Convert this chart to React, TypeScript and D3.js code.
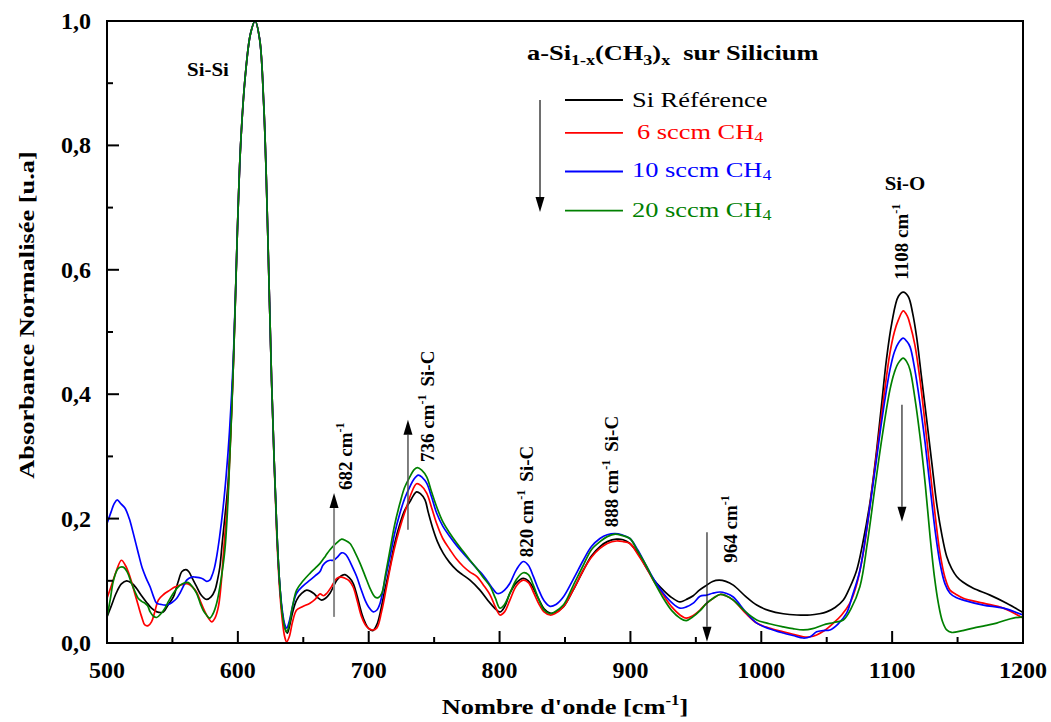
import React from "react";
import * as d3 from "d3";

type Pt = [number, number];

// Si Référence (black)
const refSeries: Pt[] = [
  [500,0.042],[503,0.058],[507,0.080],[511,0.095],[515,0.100],[519,0.096],[522.5,0.088],[526,0.077],[530,0.066],[534,0.056],[538.2,0.050],[543,0.050],[546.3,0.060],[550.7,0.074],[554.3,0.098],[557.3,0.115],[560.4,0.118],[562.4,0.115],[565.4,0.103],[568.4,0.091],[572.4,0.076],[576.2,0.070],[579.5,0.074],[582.5,0.085],[584.5,0.102],[586.3,0.123],[588.0,0.160],[590.1,0.203],[592.6,0.26],[596.6,0.45],[599.6,0.66],[602.1,0.80],[605.6,0.91],[609.7,0.98],[613.2,1.0],[616.7,0.97],[619.7,0.87],[621.7,0.75],[623.8,0.58],[625.8,0.42],[627.8,0.29],[629.8,0.18],[631.8,0.10],[633.8,0.05],[635.8,0.025],[637.8,0.016],[639.8,0.03],[641.9,0.05],[644.9,0.069],[648.9,0.080],[652.6,0.085],[657.8,0.080],[661.0,0.073],[664.0,0.069],[667.0,0.072],[670.4,0.080],[675.6,0.101],[679.1,0.108],[681.9,0.110],[685.1,0.105],[688.1,0.096],[691.2,0.075],[694.6,0.048],[697.2,0.033],[699.7,0.024],[703.2,0.020],[706.3,0.030],[708.7,0.048],[712.3,0.085],[716.3,0.123],[719.8,0.160],[723.9,0.192],[727.4,0.213],[731.4,0.227],[734.4,0.238],[736.6,0.243],[739.5,0.240],[743.0,0.230],[745.5,0.210],[749.3,0.182],[752.5,0.163],[757.0,0.144],[761.6,0.130],[767.2,0.117],[771.6,0.110],[777.4,0.101],[785.0,0.085],[792.8,0.064],[800.3,0.050],[803.8,0.058],[807.9,0.080],[812.9,0.097],[818.1,0.104],[822.0,0.100],[825.8,0.088],[830.0,0.070],[834.0,0.055],[838.6,0.048],[842.1,0.049],[848.7,0.058],[856.2,0.085],[864.0,0.117],[870.2,0.140],[876.7,0.155],[882.3,0.163],[889.4,0.167],[894.4,0.166],[899.6,0.160],[905.5,0.145],[912.4,0.120],[918.5,0.100],[925.1,0.085],[931.6,0.073],[937.9,0.066],[942.7,0.070],[948.0,0.076],[952.7,0.085],[958.3,0.093],[962.8,0.099],[967.8,0.101],[972.9,0.099],[978.6,0.093],[988.0,0.075],[996.5,0.061],[1006.1,0.052],[1016.8,0.047],[1027.2,0.045],[1037.3,0.045],[1044.3,0.047],[1049.9,0.050],[1056.4,0.057],[1062.7,0.069],[1067.4,0.088],[1072.9,0.117],[1077.5,0.160],[1083.0,0.225],[1087.6,0.300],[1092.0,0.385],[1095.6,0.455],[1099.7,0.514],[1104.7,0.557],[1108.5,0.564],[1112.3,0.557],[1115.7,0.530],[1118.7,0.492],[1122.3,0.430],[1126.4,0.359],[1130.3,0.290],[1134.0,0.225],[1137.9,0.175],[1141.7,0.139],[1145.4,0.120],[1149.3,0.107],[1154.0,0.098],[1162.0,0.088],[1174.8,0.077],[1187.5,0.064],[1200,0.049]
];

// 6 sccm CH4 (red)
const sccm6Series: Pt[] = [
  [500,0.072],[503,0.090],[507,0.115],[511,0.133],[514,0.125],[517.5,0.107],[520.5,0.085],[523.8,0.061],[526.5,0.042],[528.9,0.029],[531.5,0.028],[534,0.034],[536.5,0.050],[539.2,0.069],[543.2,0.078],[548.1,0.085],[551.8,0.090],[555.7,0.093],[559.4,0.095],[561.9,0.095],[565.4,0.090],[568.4,0.082],[571.4,0.067],[574.9,0.050],[577.5,0.040],[580.0,0.034],[582.5,0.040],[585.1,0.058],[587.0,0.090],[588.8,0.139],[590.5,0.185],[592.6,0.246],[596.6,0.45],[599.6,0.66],[602.1,0.80],[605.6,0.91],[609.7,0.98],[613.2,1.0],[616.7,0.97],[619.7,0.87],[621.7,0.75],[623.8,0.58],[625.8,0.42],[627.8,0.29],[629.8,0.17],[631.8,0.09],[633.8,0.04],[635.8,0.01],[637.3,0.002],[639.3,0.01],[641.9,0.035],[644.9,0.053],[648.9,0.058],[655.1,0.064],[659.0,0.070],[662.8,0.079],[665.5,0.076],[668.0,0.080],[671.7,0.091],[675.6,0.104],[679.1,0.106],[681.9,0.104],[685.1,0.100],[688.1,0.090],[691.2,0.068],[694.6,0.042],[698.2,0.027],[702.2,0.021],[706.1,0.024],[709.8,0.050],[713.7,0.091],[717.3,0.130],[721.3,0.166],[725.4,0.196],[729.0,0.219],[732.4,0.240],[736.6,0.256],[740.0,0.253],[744.3,0.241],[748.0,0.218],[751.9,0.192],[756.6,0.168],[762.1,0.150],[767.1,0.135],[772.3,0.123],[777.4,0.114],[782.5,0.107],[787.7,0.093],[792.8,0.077],[796.8,0.058],[800.3,0.045],[803.8,0.050],[807.9,0.069],[812.9,0.092],[818.1,0.101],[822.0,0.097],[825.8,0.082],[830.0,0.063],[834.0,0.050],[838.6,0.045],[842.1,0.047],[848.7,0.058],[856.2,0.085],[864.0,0.117],[870.2,0.138],[876.7,0.152],[882.3,0.160],[889.4,0.164],[894.4,0.163],[899.6,0.160],[905.5,0.143],[912.4,0.120],[918.5,0.097],[925.1,0.077],[931.6,0.058],[937.9,0.045],[942.7,0.040],[947.7,0.044],[953.2,0.053],[957.8,0.063],[963.3,0.072],[968.5,0.078],[972.9,0.076],[978.6,0.069],[988.0,0.048],[996.5,0.032],[1006.1,0.024],[1016.8,0.018],[1024.2,0.014],[1032.1,0.010],[1037.3,0.010],[1042.3,0.013],[1048.3,0.020],[1055.1,0.032],[1061.4,0.045],[1067.7,0.064],[1073.0,0.095],[1077.9,0.144],[1083.0,0.220],[1088.2,0.305],[1093.6,0.395],[1098.3,0.466],[1101.7,0.500],[1104.7,0.519],[1108.5,0.534],[1111.7,0.525],[1113.7,0.512],[1117.3,0.480],[1121.3,0.423],[1125.3,0.350],[1129.0,0.278],[1132.9,0.205],[1136.6,0.144],[1140.4,0.105],[1144.2,0.085],[1148.9,0.078],[1154.4,0.072],[1169.7,0.064],[1185.0,0.056],[1200,0.040]
];

// 10 sccm CH4 (blue)
const sccm10Series: Pt[] = [
  [500,0.192],[503,0.210],[505.5,0.224],[507.8,0.230],[510.5,0.224],[513.7,0.217],[517,0.200],[520,0.177],[523.5,0.148],[527,0.120],[530,0.104],[533,0.090],[535.5,0.075],[537.9,0.064],[541.2,0.062],[545.2,0.061],[548.2,0.063],[550.3,0.066],[553.3,0.072],[555.7,0.080],[558.3,0.091],[560.9,0.101],[564.7,0.106],[567.4,0.106],[570.4,0.105],[573.4,0.103],[576.2,0.099],[578.5,0.101],[580.0,0.107],[582.0,0.120],[583.8,0.139],[586.0,0.170],[588.8,0.219],[591.1,0.27],[593.6,0.34],[596.6,0.46],[599.6,0.66],[602.1,0.80],[605.6,0.91],[609.7,0.98],[613.2,1.0],[616.7,0.97],[619.7,0.87],[621.7,0.75],[623.8,0.58],[625.8,0.42],[627.8,0.29],[629.8,0.18],[631.8,0.10],[633.8,0.055],[635.8,0.03],[637.3,0.024],[639.3,0.035],[641.9,0.06],[644.9,0.080],[649.9,0.092],[655.1,0.101],[659.0,0.108],[662.8,0.115],[665.0,0.125],[667.9,0.131],[670.5,0.133],[673.1,0.133],[676.1,0.138],[679.3,0.145],[682.1,0.143],[684.4,0.136],[687.6,0.122],[690.8,0.107],[694.2,0.086],[697.2,0.069],[700.2,0.057],[703.5,0.050],[706.3,0.053],[708.7,0.064],[712.3,0.100],[716.3,0.139],[719.8,0.176],[723.9,0.209],[727.4,0.232],[731.4,0.251],[734.4,0.263],[737.9,0.270],[741.0,0.266],[744.3,0.257],[748.0,0.235],[751.9,0.209],[756.6,0.188],[762.1,0.171],[767.1,0.157],[772.3,0.144],[777.4,0.132],[782.5,0.120],[786.2,0.112],[790.2,0.101],[793.8,0.090],[797.8,0.080],[800.3,0.080],[803.8,0.085],[807.9,0.096],[812.9,0.118],[818.1,0.131],[822.0,0.125],[825.8,0.107],[830.0,0.085],[834.0,0.068],[838.6,0.059],[843.1,0.062],[848.7,0.074],[856.2,0.102],[864.0,0.133],[870.2,0.155],[876.7,0.168],[882.3,0.174],[888.2,0.176],[893.4,0.174],[899.6,0.168],[905.5,0.150],[912.4,0.123],[918.5,0.100],[925.1,0.080],[931.6,0.065],[937.9,0.056],[942.7,0.058],[948.0,0.064],[953.2,0.075],[958.3,0.077],[962.8,0.080],[968.5,0.082],[972.9,0.080],[978.6,0.074],[988.0,0.050],[996.5,0.032],[1006.1,0.023],[1016.8,0.016],[1024.2,0.012],[1032.1,0.008],[1037.3,0.010],[1042.3,0.018],[1047.3,0.020],[1052.5,0.021],[1058.4,0.030],[1065.2,0.048],[1069.5,0.075],[1075.4,0.117],[1081.0,0.190],[1086.9,0.278],[1092.6,0.365],[1098.3,0.439],[1101.7,0.468],[1104.7,0.482],[1108.5,0.490],[1111.2,0.485],[1113.7,0.476],[1117.3,0.440],[1121.3,0.385],[1125.3,0.320],[1129.0,0.251],[1132.9,0.180],[1136.6,0.128],[1140.4,0.095],[1144.2,0.080],[1148.9,0.073],[1154.4,0.069],[1169.7,0.061],[1185.0,0.056],[1200,0.045]
];

// 20 sccm CH4 (green)
const sccm20Series: Pt[] = [
  [500,0.042],[502.5,0.070],[505,0.101],[508.6,0.120],[512.4,0.122],[515.5,0.114],[518.7,0.096],[521.5,0.082],[523.8,0.072],[526.5,0.067],[529,0.064],[531,0.060],[533,0.050],[535.5,0.043],[537.9,0.041],[541.2,0.047],[544.3,0.056],[547.3,0.068],[550.7,0.080],[554.3,0.090],[558.4,0.096],[562.2,0.097],[565.4,0.090],[568.4,0.080],[571.4,0.063],[573.4,0.053],[576.0,0.045],[578.5,0.040],[581.0,0.047],[583.8,0.064],[587.0,0.100],[590.1,0.150],[592.6,0.235],[596.6,0.45],[599.6,0.66],[602.1,0.80],[605.6,0.91],[609.7,0.98],[613.2,1.0],[616.7,0.97],[619.7,0.87],[621.7,0.75],[623.8,0.58],[625.8,0.42],[627.8,0.29],[629.8,0.18],[631.8,0.10],[633.8,0.05],[635.8,0.025],[637.3,0.018],[639.3,0.03],[641.9,0.06],[644.9,0.085],[649.9,0.100],[655.1,0.112],[659.0,0.120],[662.8,0.128],[667.0,0.140],[670.4,0.150],[675.1,0.160],[679.3,0.167],[682.1,0.165],[685.7,0.160],[689.7,0.145],[693.4,0.128],[697.2,0.108],[701.0,0.088],[704.8,0.074],[707.3,0.073],[710.0,0.080],[712.8,0.110],[716.3,0.150],[719.8,0.190],[723.9,0.225],[727.4,0.250],[731.4,0.267],[734.4,0.278],[737.1,0.282],[740.5,0.278],[744.3,0.267],[748.0,0.243],[751.9,0.219],[756.6,0.195],[762.1,0.176],[767.1,0.161],[772.3,0.147],[777.4,0.133],[782.5,0.120],[787.7,0.105],[792.8,0.091],[796.8,0.072],[800.3,0.056],[803.8,0.062],[807.9,0.080],[812.9,0.102],[818.1,0.113],[822.0,0.110],[825.8,0.093],[830.0,0.070],[834.0,0.053],[838.6,0.047],[842.1,0.050],[848.7,0.061],[856.2,0.092],[864.0,0.125],[870.2,0.150],[876.7,0.163],[882.3,0.171],[888.4,0.175],[893.4,0.173],[899.6,0.168],[905.5,0.148],[912.4,0.123],[918.5,0.097],[925.1,0.072],[931.6,0.052],[937.9,0.040],[942.7,0.036],[947.7,0.042],[953.2,0.052],[958.3,0.064],[963.3,0.072],[968.5,0.078],[972.9,0.076],[978.6,0.069],[988.0,0.050],[996.5,0.037],[1006.1,0.031],[1016.8,0.026],[1024.2,0.023],[1032.1,0.021],[1039.3,0.023],[1047.3,0.029],[1055.4,0.033],[1062.7,0.037],[1068.5,0.055],[1075.4,0.091],[1081.0,0.160],[1086.9,0.251],[1092.6,0.335],[1098.3,0.407],[1101.7,0.435],[1104.7,0.450],[1108.5,0.458],[1111.2,0.452],[1113.7,0.439],[1117.3,0.395],[1121.3,0.332],[1125.3,0.255],[1129.0,0.171],[1132.4,0.105],[1135.3,0.064],[1138.4,0.035],[1141.7,0.021],[1145.4,0.017],[1149.3,0.018],[1154.0,0.020],[1162.0,0.024],[1171.1,0.028],[1179.9,0.032],[1187.2,0.037],[1192.6,0.040],[1200,0.042]
];

const seriesNames = ["Si Référence", "6 sccm CH", "10 sccm CH", "20 sccm CH"];
const seriesColors = ["#000000", "#ff0000", "#0000ff", "#008000"];
const xMajorTicks = [500, 600, 700, 800, 900, 1000, 1100, 1200];
const xMinorTicks = [550, 650, 750, 850, 950, 1050, 1150];
const yMajorTicks = [0, 0.2, 0.4, 0.6, 0.8, 1.0];
const yMinorTicks = [0.1, 0.3, 0.5, 0.7, 0.9];

const W = 1051, H = 722;
const left = 107, right = 1023, top = 21, bottom = 643;
const FONT = "'Liberation Serif', 'Times New Roman', Times, serif";
const SX = 1.2; // horizontal stretch of the reference's horizontal texts

export default function App() {
  const x = d3.scaleLinear().domain([500, 1200]).range([left, right]);
  const y = d3.scaleLinear().domain([0, 1]).range([bottom, top]);
  const line = d3.line<Pt>().x(d => x(d[0])).y(d => y(d[1])).curve(d3.curveCatmullRom.alpha(0.5));
  const all = [refSeries, sccm6Series, sccm10Series, sccm20Series];
  const fmt = (v: number) => v.toFixed(1).replace(".", ",");

  const arrow = (xv: number, y0: number, y1: number, color: string, headColor: string, sw: number, key: string) => {
    const px = x(xv), pa = y(y0), pb = y(y1);
    const dir = pb > pa ? 1 : -1;
    const hl = 15, hw = 4.5;
    return (
      <g key={key}>
        <line x1={px} x2={px} y1={pa} y2={pb - dir * hl} stroke={color} strokeWidth={sw} />
        <path d={`M${px},${pb} L${px - hw},${pb - dir * hl} L${px + hw},${pb - dir * hl} Z`} fill={headColor} />
      </g>
    );
  };

  const rotLabel = (xv: number, yv: number, num: string, extra: string, key: string) => (
    <text key={key} transform={`translate(${x(xv)},${y(yv)}) rotate(-90)`} fontFamily={FONT} fontWeight="bold" fontSize={19} fill="#000">
      {num} cm<tspan fontSize={12} dy={-8}>-1</tspan>
      {extra ? <tspan dy={8} dx={8}>{extra}</tspan> : null}
    </text>
  );

  const legendRows = [
    { yl: 0.873, yt: 0.862, xt: 901.2 },
    { yl: 0.820, yt: 0.810, xt: 905.0 },
    { yl: 0.758, yt: 0.749, xt: 901.2 },
    { yl: 0.695, yt: 0.685, xt: 901.2 },
  ];

  return (
    <svg width={W} height={H} style={{ position: "absolute", left: 0, top: 0, background: "#fff" }}>
      <defs>
        <clipPath id="plotClip">
          <rect x={left} y={top - 2} width={right - left} height={bottom - top + 2} />
        </clipPath>
      </defs>
      <rect x={0} y={0} width={W} height={H} fill="#fff" />
      <g clipPath="url(#plotClip)">
        {all.map((s, i) => (
          <path key={i} d={line(s) || ""} fill="none" stroke={seriesColors[i]} strokeWidth={1.7} />
        ))}
      </g>
      <rect x={left} y={top} width={right - left} height={bottom - top} fill="none" stroke="#000" strokeWidth={2} />
      {xMajorTicks.map(t => (
        <g key={"xm" + t}>
          <line x1={x(t)} x2={x(t)} y1={bottom} y2={bottom - 12} stroke="#000" strokeWidth={2} />
          <text x={x(t)} y={bottom + 35} textAnchor="middle" fontFamily={FONT} fontWeight="bold" fontSize={24}>{t}</text>
        </g>
      ))}
      {xMinorTicks.map(t => (
        <line key={"xn" + t} x1={x(t)} x2={x(t)} y1={bottom} y2={bottom - 6} stroke="#000" strokeWidth={2} />
      ))}
      {yMajorTicks.map(t => (
        <g key={"ym" + t}>
          <line x1={left} x2={left + 12} y1={y(t)} y2={y(t)} stroke="#000" strokeWidth={2} />
          <text x={left - 16} y={y(t) + 8} textAnchor="end" fontFamily={FONT} fontWeight="bold" fontSize={24}>{fmt(t)}</text>
        </g>
      ))}
      {yMinorTicks.map(t => (
        <line key={"yn" + t} x1={left} x2={left + 6} y1={y(t)} y2={y(t)} stroke="#000" strokeWidth={2} />
      ))}
      <text transform={`translate(${(left + right) / 2},714) scale(${SX},1)`} textAnchor="middle" fontFamily={FONT} fontWeight="bold" fontSize={22}>
        Nombre d'onde [cm<tspan fontSize={14} dy={-9}>-1</tspan><tspan dy={9}>]</tspan>
      </text>
      <text transform={`translate(34,315) rotate(-90) scale(${SX},1)`} textAnchor="middle" fontFamily={FONT} fontWeight="bold" fontSize={22}>
        Absorbance Normalisée [u.a]
      </text>
      <text transform={`translate(${x(821)},${y(0.937)}) scale(${SX},1)`} fontFamily={FONT} fontWeight="bold" fontSize={22}>
        a-Si<tspan fontSize={15} dy={5}>1-x</tspan><tspan dy={-5}>(CH</tspan><tspan fontSize={15} dy={5}>3</tspan><tspan dy={-5}>)</tspan><tspan fontSize={15} dy={5}>x</tspan><tspan dy={-5}>{"\u00a0\u00a0sur Silicium"}</tspan>
      </text>
      {arrow(830.9, 0.873, 0.693, "#222", "#000", 1.3, "legarrow")}
      {legendRows.map((r, i) => (
        <g key={"leg" + i}>
          <line x1={x(850)} x2={x(894.3)} y1={y(r.yl)} y2={y(r.yl)} stroke={seriesColors[i]} strokeWidth={1.8} />
          <text transform={`translate(${x(r.xt)},${y(r.yt)}) scale(${SX},1)`} fontFamily={FONT} fontSize={22} fill={seriesColors[i]}>
            {seriesNames[i]}
            {i > 0 ? <tspan fontSize={15} dy={3}>4</tspan> : null}
          </text>
        </g>
      ))}
      <text transform={`translate(${x(577.2)},${y(0.912)}) scale(1.1,1)`} textAnchor="middle" fontFamily={FONT} fontWeight="bold" fontSize={19}>Si-Si</text>
      <text transform={`translate(${x(1109.8)},${y(0.728)}) scale(1.1,1)`} textAnchor="middle" fontFamily={FONT} fontWeight="bold" fontSize={19}>Si-O</text>
      {rotLabel(687.2, 0.246, "682", "", "l682")}
      {rotLabel(749.9, 0.291, "736", "Si-C", "l736")}
      {rotLabel(825.5, 0.138, "820", "Si-C", "l820")}
      {rotLabel(890.5, 0.186, "888", "Si-C", "l888")}
      {rotLabel(981.4, 0.129, "964", "", "l964")}
      {rotLabel(1112.1, 0.584, "1108", "", "l1108")}
      {arrow(673.5, 0.042, 0.241, "#8a8a8a", "#000", 2, "a682")}
      {arrow(730.0, 0.182, 0.359, "#555", "#000", 1.5, "a736")}
      {arrow(958.5, 0.178, 0.002, "#222", "#000", 1.2, "a964")}
      {arrow(1107.5, 0.383, 0.195, "#222", "#000", 1.2, "a1108")}
    </svg>
  );
}
